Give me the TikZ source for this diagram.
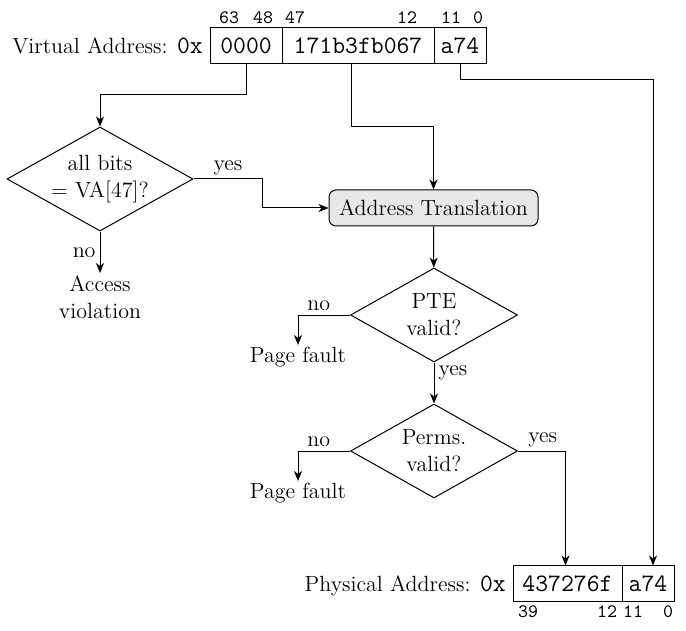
\documentclass[tikz,border=0pt]{standalone}
\usepackage{fontspec}
\usetikzlibrary{arrows.meta,positioning,shapes.geometric}

\newcommand\addrfont{\fontsize{12.5}{15}\selectfont\ttfamily}
\newcommand\bitfont{\fontsize{9.5}{11}\selectfont\ttfamily}

\tikzset{
  field/.style={draw, minimum height=18pt, inner sep=0pt, outer sep=0pt, font=\addrfont},
  bitno/.style={inner sep=0pt, font=\bitfont},
  decision/.style={draw, diamond, inner sep=0pt, align=center},
  outcome/.style={align=center, inner sep=1pt},
  lbl/.style={inner sep=2pt},
  flow/.style={-{Stealth[length=5pt,width=4pt,inset=1.5pt]}},
}

\begin{document}
\begin{tikzpicture}[x=0.5pt, y=-0.5pt, line width=0.5pt, font=\fontsize{11}{13.5}\selectfont]
\useasboundingbox (0,0) rectangle (686,631);

% virtual address
\node[field, minimum width=36pt] (va1) at (246,46) {0000};
\node[field, minimum width=76pt, right=0pt of va1] (va2) {171b3fb067};
\node[field, minimum width=26pt, right=0pt of va2] (va3) {a74};
\node[anchor=base east] (valbl) at (va1.base west) {Virtual Address: {\addrfont 0x}};

\node[bitno] (b63) at (229,18) {63};
\node[bitno] (b48) at (263,18) {48};
\node[bitno] (b47) at (295,18) {47};
\node[bitno] (b12) at (407,18) {12};
\node[bitno] (b11) at (451,18) {11};
\node[bitno] (b0) at (478,18) {0};

% checks
\node[decision, aspect=1.79, minimum width=93pt, minimum height=52pt] (chk) at (100,179) {all bits\\= VA[47]?};
\node[outcome, anchor=north] (acc) at (100,273) {Access\\violation};

\node[draw, rounded corners=3.5pt, fill=gray!18, minimum width=104.5pt, minimum height=18pt] (at) at (433.5,208) {Address Translation};
\node[decision, aspect=1.78, minimum width=83.5pt, minimum height=47pt] (pte) at (434,315) {PTE\\valid?};
\node[outcome, anchor=north] (pf1) at (298,345) {Page fault};
\node[decision, aspect=1.78, minimum width=83.5pt, minimum height=47pt] (perm) at (434,451) {Perms.\\valid?};
\node[outcome, anchor=north] (pf2) at (298,481) {Page fault};

% physical address
\node[field, minimum width=54.5pt] (pa1) at (567.5,583.5) {437276f};
\node[field, minimum width=26pt, right=0pt of pa1] (pa2) {a74};
\node[anchor=base east] (palbl) at (pa1.base west) {Physical Address: {\addrfont 0x}};

\node[bitno] (p39) at (528,612) {39};
\node[bitno] (p12) at (607,612) {12};
\node[bitno] (p11) at (633,612) {11};
\node[bitno] (p0) at (668,612) {0};

% connectors
\draw[flow] (va1.south) -- ++(0,31) -| (chk.north);
\draw[flow] ([xshift=-3.5pt]va2.south) -- ++(0,63) -| (at.north);
\draw[flow] (va3.south) -- ++(0,16) -| ([xshift=2.5pt]pa2.north);
\draw[flow] (chk.east) -- node[lbl, above]{yes} ++(69,0) |- (at.west);
\draw[flow] (chk.south) -- node[lbl, left]{no} (acc.north);
\draw[flow] (at) -- (pte);
\draw[flow] (pte.west) -| node[lbl, pos=0.3, above]{no} (pf1.north);
\draw[flow] (pte) -- node[lbl, pos=0.25, right]{yes} (perm);
\draw[flow] (perm.west) -| node[lbl, pos=0.3, above]{no} (pf2.north);
\draw[flow] (perm.east) -| node[lbl, pos=0.26, above]{yes} ([xshift=-1pt]pa1.north);

\end{tikzpicture}
\end{document}
